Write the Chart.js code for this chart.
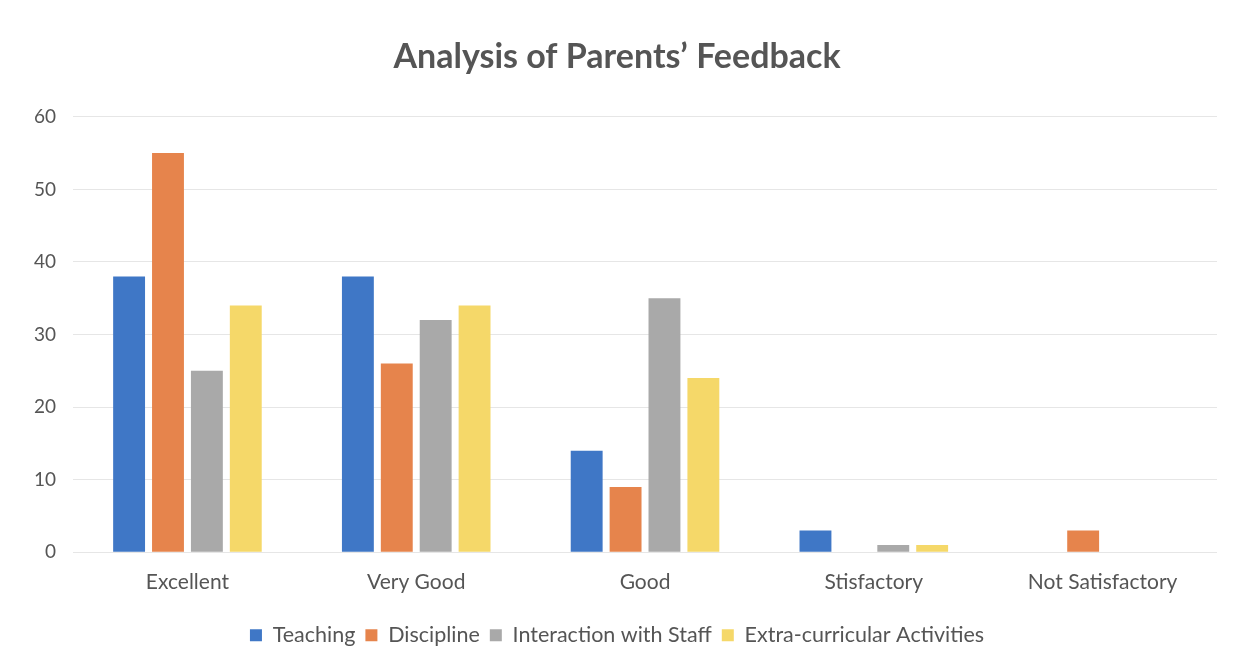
<!DOCTYPE html>
<html>
<head>
<meta charset="utf-8">
<script src="https://cdn.jsdelivr.net/npm/chart.js@4"></script>
<style>
    html, body { margin: 0; padding: 0; background: #fff; }
    #wrap { width: 1247px; height: 670px; }
</style>
</head>
<body>
<div id="wrap"><canvas id="feedbackChart" width="1247" height="670"></canvas></div>
<script>
const categories = ['Excellent', 'Very Good', 'Good', 'Stisfactory', 'Not Satisfactory'];
const teaching = [38, 38, 14, 3, 0];
const discipline = [55, 26, 9, 0, 3];
const interaction = [25, 32, 35, 1, 0];
const extraCurricular = [34, 34, 24, 1, 0];
const yTicks = [0, 10, 20, 30, 40, 50, 60];

document.addEventListener('DOMContentLoaded', () => {
    const ctx = document.getElementById('feedbackChart').getContext('2d');
    const font = "Lato, 'Open Sans', sans-serif";

    new Chart(ctx, {
        type: 'bar',
        data: {
            labels: categories,
            datasets: [
                { label: 'Teaching', data: teaching, backgroundColor: '#3f77c6' },
                { label: 'Discipline', data: discipline, backgroundColor: '#e6844c' },
                { label: 'Interaction with Staff', data: interaction, backgroundColor: '#a9a9a9' },
                { label: 'Extra-curricular Activities', data: extraCurricular, backgroundColor: '#f5d869' }
            ]
        },
        options: {
            responsive: false,
            animation: false,
            layout: { padding: { left: 17, right: 30, top: 20, bottom: 14 } },
            datasets: { bar: { categoryPercentage: 0.68, barPercentage: 0.82 } },
            plugins: {
                title: {
                    display: true,
                    text: 'Analysis of Parents\u2019 Feedback',
                    color: '#555',
                    font: { family: font, size: 34, weight: 'bold' },
                    padding: { top: 17, bottom: 39 }
                },
                legend: {
                    position: 'bottom',
                    labels: {
                        color: '#555',
                        font: { family: font, size: 21.5 },
                        boxWidth: 12,
                        boxHeight: 12,
                        padding: 10
                    }
                },
                tooltip: { enabled: false }
            },
            scales: {
                x: {
                    grid: { display: false },
                    border: { display: false },
                    ticks: { color: '#555', font: { family: font, size: 21 }, padding: 9 },
                    afterFit: axis => { axis.height += 11; }
                },
                y: {
                    min: yTicks[0],
                    max: yTicks[yTicks.length - 1],
                    afterBuildTicks: axis => { axis.ticks = yTicks.map(v => ({ value: v })); },
                    grid: { color: '#e6e6e6', drawTicks: false },
                    border: { display: false },
                    ticks: { color: '#555', font: { family: font, size: 19 }, padding: 17 }
                }
            }
        }
    });
});
</script>
</body>
</html>
